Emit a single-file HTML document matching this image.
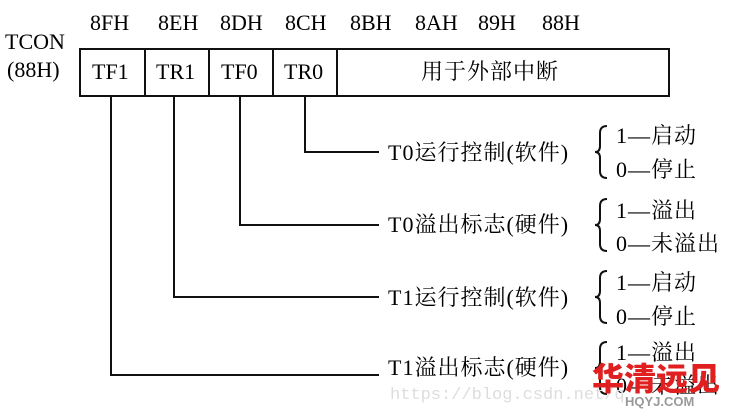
<!DOCTYPE html>
<html><head><meta charset="utf-8"><style>
body{margin:0;width:731px;height:411px;background:#fff;overflow:hidden;position:relative;font-family:"Liberation Serif","Noto Serif CJK SC",serif;color:#000}
.t{position:absolute;font-size:22px;line-height:22px;white-space:nowrap}
.c{letter-spacing:1px}
.l{position:absolute;background:#111}
svg{position:absolute;left:0;top:0}
</style></head><body>
<div class="t" style="left:5px;top:31px">TCON</div>
<div class="t" style="left:7px;top:59px">(88H)</div>
<div class="t" style="left:90px;top:12px">8FH</div>
<div class="t" style="left:158px;top:12px">8EH</div>
<div class="t" style="left:220px;top:12px">8DH</div>
<div class="t" style="left:285px;top:12px">8CH</div>
<div class="t" style="left:350px;top:12px">8BH</div>
<div class="t" style="left:415px;top:12px">8AH</div>
<div class="t" style="left:478px;top:12px">89H</div>
<div class="t" style="left:542px;top:12px">88H</div>
<div style="position:absolute;left:79px;top:48px;width:587px;height:45px;border:2px solid #111"></div>
<div class="l" style="left:144px;top:48px;width:2px;height:47px"></div>
<div class="l" style="left:208px;top:48px;width:2px;height:47px"></div>
<div class="l" style="left:272px;top:48px;width:2px;height:47px"></div>
<div class="l" style="left:336px;top:48px;width:2px;height:47px"></div>
<div class="t" style="left:92px;top:61px">TF1</div>
<div class="t" style="left:156px;top:61px">TR1</div>
<div class="t" style="left:221px;top:61px">TF0</div>
<div class="t" style="left:284px;top:61px">TR0</div>
<div class="t c" style="left:421px;top:61px">用于外部中断</div>
<div class="l" style="left:110px;top:95px;width:2px;height:281px"></div>
<div class="l" style="left:110px;top:374px;width:269px;height:2px"></div>
<div class="l" style="left:173px;top:95px;width:2px;height:203px"></div>
<div class="l" style="left:173px;top:296px;width:206px;height:2px"></div>
<div class="l" style="left:239px;top:95px;width:2px;height:131px"></div>
<div class="l" style="left:239px;top:224px;width:140px;height:2px"></div>
<div class="l" style="left:304px;top:95px;width:2px;height:58px"></div>
<div class="l" style="left:304px;top:151px;width:75px;height:2px"></div>
<div class="t c" style="left:388px;top:142px">T0运行控制(软件)</div>
<div class="t c" style="left:388px;top:214px">T0溢出标志(硬件)</div>
<div class="t c" style="left:388px;top:287px">T1运行控制(软件)</div>
<div class="t c" style="left:388px;top:357px">T1溢出标志(硬件)</div>
<svg width="731" height="411" fill="none" stroke="#111" stroke-width="2">
<path d="M607 126 Q600 126 600 133 L600 146 Q600 152 595 152 Q600 152 600 158 L600 171 Q600 178 607 178"/>
<path d="M607 199 Q600 199 600 206 L600 219 Q600 225 595 225 Q600 225 600 231 L600 244 Q600 251 607 251"/>
<path d="M607 271 Q600 271 600 278 L600 291 Q600 297 595 297 Q600 297 600 303 L600 316 Q600 323 607 323"/>
<path d="M607 342 Q600 342 600 349 L600 362 Q600 368 595 368 Q600 368 600 374 L600 387 Q600 394 607 394"/>
</svg>
<div class="t c" style="left:616px;top:125px">1—启动</div>
<div class="t c" style="left:616px;top:159px">0—停止</div>
<div class="t c" style="left:616px;top:200px">1—溢出</div>
<div class="t c" style="left:616px;top:233px">0—未溢出</div>
<div class="t c" style="left:616px;top:272px">1—启动</div>
<div class="t c" style="left:616px;top:306px">0—停止</div>
<div class="t c" style="left:616px;top:342px">1—溢出</div>
<div class="t c" style="left:616px;top:375px">0—未溢出</div>
<div class="t" style="left:390px;top:385px;font-family:'Liberation Mono',monospace;font-size:17px;color:#ddd">https://blog.csdn.net/q</div>
<div class="t" style="left:592px;top:360px;font-family:'Noto Sans CJK SC',sans-serif;font-weight:900;font-size:32px;line-height:34px;color:#e02020">华清远见</div>
<div class="t" style="left:625px;top:395px;font-family:'Liberation Sans',sans-serif;font-weight:bold;font-size:13px;line-height:14px;color:#999">HQYJ.COM</div>
</body></html>
